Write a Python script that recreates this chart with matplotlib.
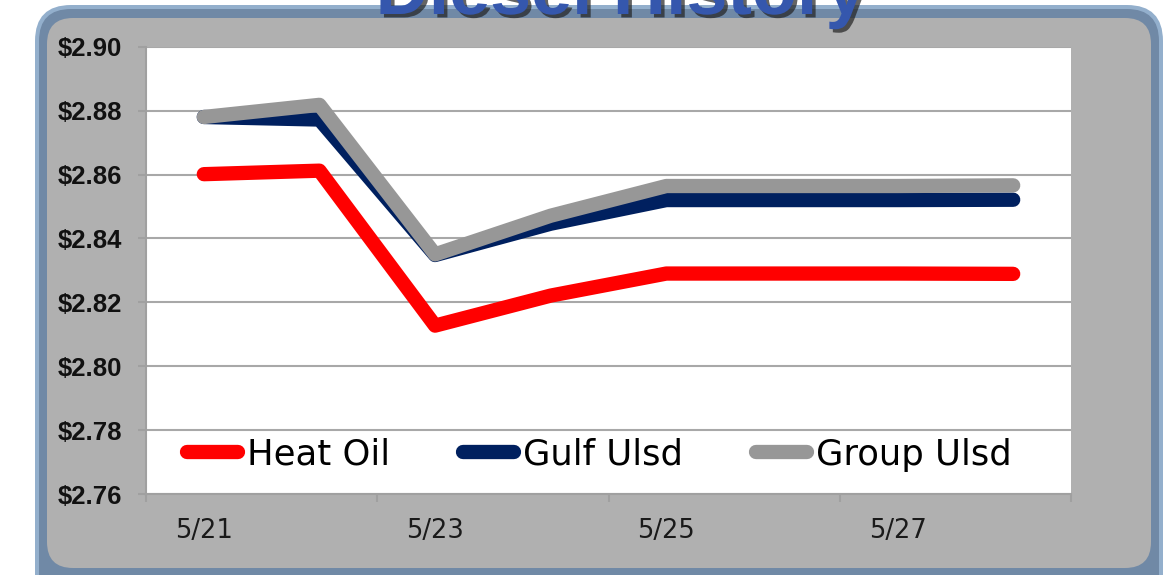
import matplotlib.pyplot as plt
import matplotlib.patheffects as pe
from matplotlib.patches import FancyBboxPatch
from matplotlib.ticker import FuncFormatter
import numpy as np

# Data
days = ['5/21', '5/22', '5/23', '5/24', '5/25', '5/26', '5/27', '5/28']
heat_oil = [2.8601, 2.8612, 2.8127, 2.8221, 2.8290, 2.8290, 2.8290, 2.8289]
gulf_ulsd = [2.8780, 2.8772, 2.8348, 2.8446, 2.8520, 2.8520, 2.8520, 2.8521]
group_ulsd = [2.8780, 2.8818, 2.8350, 2.8471, 2.8564, 2.8564, 2.8564, 2.8566]

W, H = 11.69, 5.75
fig = plt.figure(figsize=(W, H), dpi=100)
fig.patch.set_facecolor('white')

def px(x, y):
    # pixel (from top-left) -> inches (from bottom-left)
    return x / 100.0, (575 - y) / 100.0

# rounded frame
x0, y0 = px(35, 610)
fig.patches.append(FancyBboxPatch((x0, y0), (1163 - 35) / 100, (610 - 5) / 100,
                                  boxstyle='round,pad=0,rounding_size=0.36',
                                  transform=fig.dpi_scale_trans, facecolor='#93afcc',
                                  edgecolor='none', zorder=-10))
x0, y0 = px(39, 606)
fig.patches.append(FancyBboxPatch((x0, y0), (1159 - 39) / 100, (606 - 9) / 100,
                                  boxstyle='round,pad=0,rounding_size=0.32',
                                  transform=fig.dpi_scale_trans, facecolor='#7089a6',
                                  edgecolor='none', zorder=-9))
x0, y0 = px(47, 568)
fig.patches.append(FancyBboxPatch((x0, y0), (1151 - 47) / 100, (568 - 18) / 100,
                                  boxstyle='round,pad=0,rounding_size=0.26',
                                  transform=fig.dpi_scale_trans, facecolor='#b0b0b0',
                                  edgecolor='none', zorder=-8))

# title (cut off at the top)
fig.text(621 / 1169, (575 - 14) / 575, 'Diesel History', ha='center', va='baseline',
         fontsize=53, fontweight='bold', family='Liberation Sans', color='#3557ad',
         path_effects=[pe.withSimplePatchShadow(offset=(2.5, -2.5), shadow_rgbFace='#222222', alpha=0.7)])

ax = fig.add_axes([146 / 1169, (575 - 494) / 575, 925 / 1169, 447.3 / 575])
ax.set_facecolor('white')
x = np.arange(len(days))

ax.plot(x, heat_oil, color='#ff0000', lw=10.3, solid_capstyle='round', solid_joinstyle='round', label='Heat Oil')
ax.plot(x, gulf_ulsd, color='#00205f', lw=10.3, solid_capstyle='round', solid_joinstyle='round', label='Gulf Ulsd')
ax.plot(x, group_ulsd, color='#979797', lw=10.3, solid_capstyle='round', solid_joinstyle='round', label='Group Ulsd')

ax.set_xlim(-0.5, 7.5)
ax.set_ylim(2.76, 2.90)
ax.set_yticks(np.arange(2.76, 2.901, 0.02))
ax.yaxis.set_major_formatter(FuncFormatter(lambda v, p: r'\$%.2f' % v))
ax.grid(axis='y', color='#a8a8a8', lw=1.5)
ax.set_axisbelow(True)

ax.set_xticks([-0.5, 1.5, 3.5, 5.5, 7.5])
ax.set_xticklabels([])
ax.set_xticks([0, 2, 4, 6], minor=True)
ax.set_xticklabels([days[i] for i in [0, 2, 4, 6]], minor=True)
ax.tick_params(axis='x', which='major', length=6, width=1.5, color='#a0a0a0')
ax.tick_params(axis='x', which='minor', length=0, pad=17, labelsize=18.5, labelcolor='#1a1a1a')
ax.tick_params(axis='y', length=6, width=1.5, color='#a0a0a0', pad=11, labelsize=18.5)
for lab in ax.get_yticklabels():
    lab.set_fontweight('bold')
    lab.set_family('Liberation Sans')
    lab.set_color('#111111')

for s in ['top', 'right']:
    ax.spines[s].set_visible(False)
for s in ['left', 'bottom']:
    ax.spines[s].set_color('#a0a0a0')
    ax.spines[s].set_linewidth(1.5)

leg = ax.legend(ncol=3, frameon=False, fontsize=25.5, loc='center',
                bbox_to_anchor=(0.490, 0.088), handlelength=1.44,
                handletextpad=0.25, columnspacing=2.06, borderpad=0)

fig.savefig('out.png', dpi=100)
